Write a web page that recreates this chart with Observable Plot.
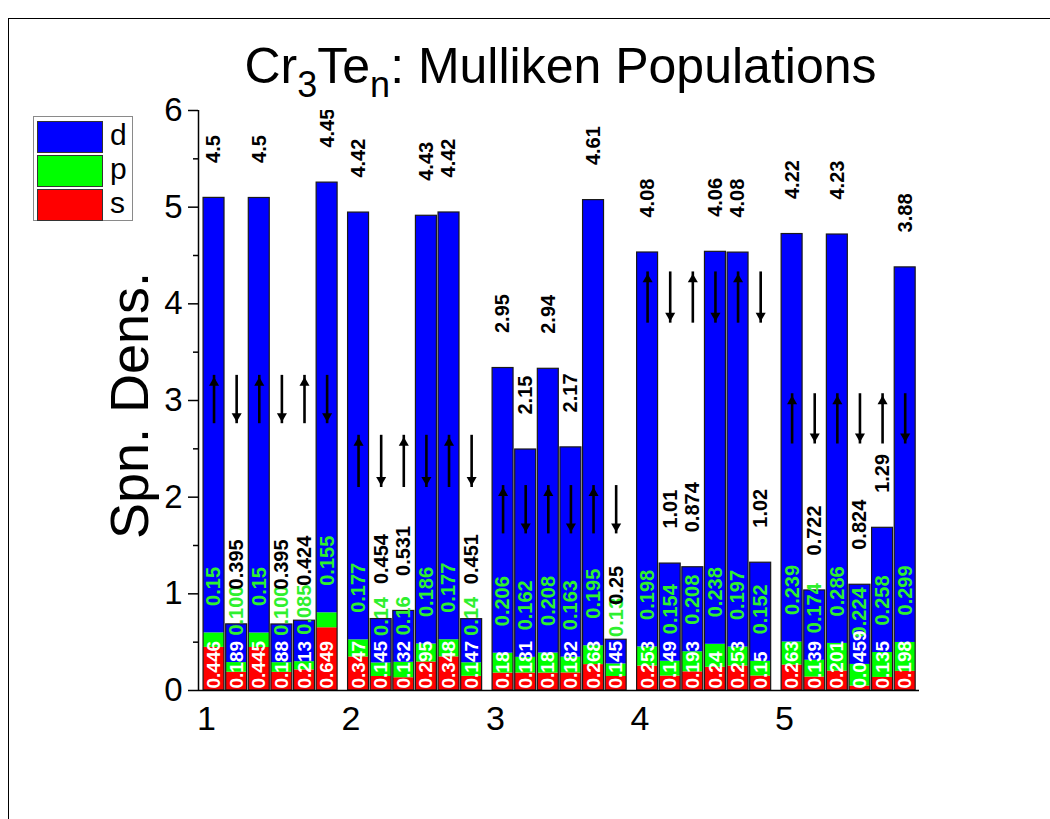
<!DOCTYPE html>
<html>
<head>
<meta charset="utf-8">
<script src="https://cdn.jsdelivr.net/npm/d3@7"></script>
<script src="https://cdn.jsdelivr.net/npm/@observablehq/plot@0.6"></script>
<style>
  html, body { margin: 0; padding: 0; background: #fff; overflow: hidden; }
  #wrap { position: relative; width: 1050px; height: 819px; overflow: hidden; font-family: "Liberation Sans", Arial, sans-serif; color: #000; }
  #frame { position: absolute; left: 8px; top: 18px; width: 1200px; height: 1000px; border-left: 1.5px solid #000; border-top: 1.5px solid #000; }
  #chart { position: absolute; left: 0; top: 0; }
  #title { position: absolute; left: 0; width: 1121px; top: 42px; text-align: center; font-size: 50px; line-height: 48px; white-space: nowrap; }
  #title .sub { font-size: 0.72em; position: relative; top: 0.4em; }
  #legend { position: absolute; left: 33px; top: 116px; width: 98px; height: 103px; border: 1px solid #8a8a8a; background: #fff; }
  #legend .sw { position: absolute; left: 3px; width: 64px; height: 30px; border: 1px solid #333; }
  #legend .lab { position: absolute; left: 76px; font-size: 30px; line-height: 32px; }
</style>
</head>
<body>
<div id="wrap">
  <div id="frame"></div>
  <div id="chart"></div>
  <div id="title">Cr<span class="sub">3</span>Te<span class="sub">n</span>: Mulliken Populations</div>
  <div id="legend"></div>
</div>
<script>
// ---- data (as printed in the figure) ----
const groups = [1, 2, 3, 4, 5];
const sValues = [
  ["0.446", "0.189", "0.445", "0.188", "0.213", "0.649"],
  ["0.347", "0.145", "0.132", "0.295", "0.348", "0.147"],
  ["0.18",  "0.181", "0.18",  "0.182", "0.268", "0.145"],
  ["0.253", "0.149", "0.193", "0.24",  "0.253", "0.15"],
  ["0.263", "0.139", "0.201", "0.0459","0.135", "0.198"]
];
const pValues = [
  ["0.15",  "0.100", "0.15",  "0.100", "0.085", "0.155"],
  ["0.177", "0.14",  "0.16",  "0.186", "0.177", "0.14"],
  ["0.206", "0.162", "0.208", "0.163", "0.195", "0.13"],
  ["0.198", "0.154", "0.208", "0.238", "0.197", "0.152"],
  ["0.239", "0.174", "0.286", "0.224", "0.258", "0.299"]
];
const dValues = [
  ["4.5",  "0.395", "4.5",   "0.395", "0.424", "4.45"],
  ["4.42", "0.454", "0.531", "4.43",  "4.42",  "0.451"],
  ["2.95", "2.15",  "2.94",  "2.17",  "4.61",  "0.25"],
  ["4.08", "1.01",  "0.874", "4.06",  "4.08",  "1.02"],
  ["4.22", "0.722", "4.23",  "0.824", "1.29",  "3.88"]
];
const spinDirections = ["up", "down", "up", "down", "up", "down"];
const arrowLow  = [2.76, 2.10, 1.62, 3.80, 2.55];
const arrowHigh = [3.26, 2.64, 2.12, 4.33, 3.07];
const yTicks = [0, 1, 2, 3, 4, 5, 6];
const yMinorTicks = [0.5, 1.5, 2.5, 3.5, 4.5, 5.5];
const legendItems = ["d", "p", "s"];
const orbitalColors = {s: "#ff0000", p: "#00ff00", d: "#0000ff"};

// ---- layout constants ----
const xDomain = [0.945, 5.934];
const barOffset = -0.02, barPitch = 0.1565, barWidth = 0.145;

const rows = [];
groups.forEach((g, gi) => spinDirections.forEach((dir, k) => {
  const s = +sValues[gi][k], p = +pValues[gi][k], d = +dValues[gi][k];
  const x1 = g + barOffset + k * barPitch;
  rows.push({
    g, k, dir, s, p, d,
    sp: s + p, total: s + p + d,
    sLab: sValues[gi][k], pLab: pValues[gi][k], dLab: dValues[gi][k],
    x1, x2: x1 + barWidth, xc: x1 + barWidth / 2,
    lo: arrowLow[gi], hi: arrowHigh[gi]
  });
}));

const labelFont = {fontWeight: "bold", fontSize: 20, rotate: -90, textAnchor: "start"};

const chart = Plot.plot({
  width: 1050, height: 819,
  marginLeft: 198, marginRight: 131, marginTop: 110, marginBottom: 129,
  x: {type: "linear", domain: xDomain},
  y: {domain: [0, 6]},
  style: {fontFamily: '"Liberation Sans", Arial, sans-serif', color: "#000", background: "transparent", overflow: "visible"},
  marks: [
    Plot.rect(rows, {x1: "x1", x2: "x2", y1: 0, y2: "s", fill: orbitalColors.s}),
    Plot.rect(rows, {x1: "x1", x2: "x2", y1: "s", y2: "sp", fill: orbitalColors.p}),
    Plot.rect(rows, {x1: "x1", x2: "x2", y1: "sp", y2: "total", fill: orbitalColors.d}),
    Plot.rect(rows, {x1: "x1", x2: "x2", y1: 0, y2: "total", fill: "none", stroke: "#1a1a1a", strokeWidth: 1.2}),
    // spin arrows
    Plot.ruleX(rows, {x: "xc", y1: "lo", y2: "hi", stroke: "#000", strokeWidth: 2.6}),
    Plot.dot(rows.filter(r => r.dir === "up"), {x: "xc", y: "hi", symbol: "triangle2", r: 4.8, fill: "#000", stroke: "none", dy: 7.5}),
    Plot.dot(rows.filter(r => r.dir === "down"), {x: "xc", y: "lo", symbol: "triangle2", r: 4.8, rotate: 180, fill: "#000", stroke: "none", dy: -7.5}),
    // value labels
    Plot.text(rows, {x: "xc", y: "sp", text: "pLab", fill: "#2ef02e", dy: -27, ...labelFont}),
    Plot.text(rows, {x: "xc", y: "total", text: "dLab", fill: "#000", dy: -35, clip: true, ...labelFont}),
    Plot.text(rows, {x: "xc", y: 0, text: "sLab", fill: "#fff", dy: -2, ...labelFont, fontSize: 19}),
    // axes
    Plot.ruleY([0], {stroke: "#000", strokeWidth: 1.5}),
    Plot.ruleX([xDomain[0]], {stroke: "#000", strokeWidth: 1.5}),
    Plot.axisY({ticks: yTicks, tickSize: 10, tickPadding: 6, fontSize: 33, label: null, tickFormat: d => String(d), strokeWidth: 1.5}),
    Plot.axisY({ticks: yMinorTicks, tickSize: 5, tickFormat: () => "", label: null, strokeWidth: 1.5}),
    Plot.axisX({ticks: groups, tickSize: 0, tickPadding: 15, fontSize: 34, label: null, tickFormat: d => String(d)}),
    Plot.text(["Spn. Dens."], {frameAnchor: "left", dx: -68, dy: 5, rotate: -90, textAnchor: "middle", fontSize: 54, text: d => d})
  ]
});
document.getElementById("chart").appendChild(chart);

// legend
const legend = document.getElementById("legend");
legendItems.forEach((key, i) => {
  const sw = document.createElement("div");
  sw.className = "sw";
  sw.style.top = (4 + i * 34) + "px";
  sw.style.background = orbitalColors[key];
  legend.appendChild(sw);
  const lab = document.createElement("div");
  lab.className = "lab";
  lab.style.top = (2 + i * 34) + "px";
  lab.textContent = key;
  legend.appendChild(lab);
});
</script>
</body>
</html>
